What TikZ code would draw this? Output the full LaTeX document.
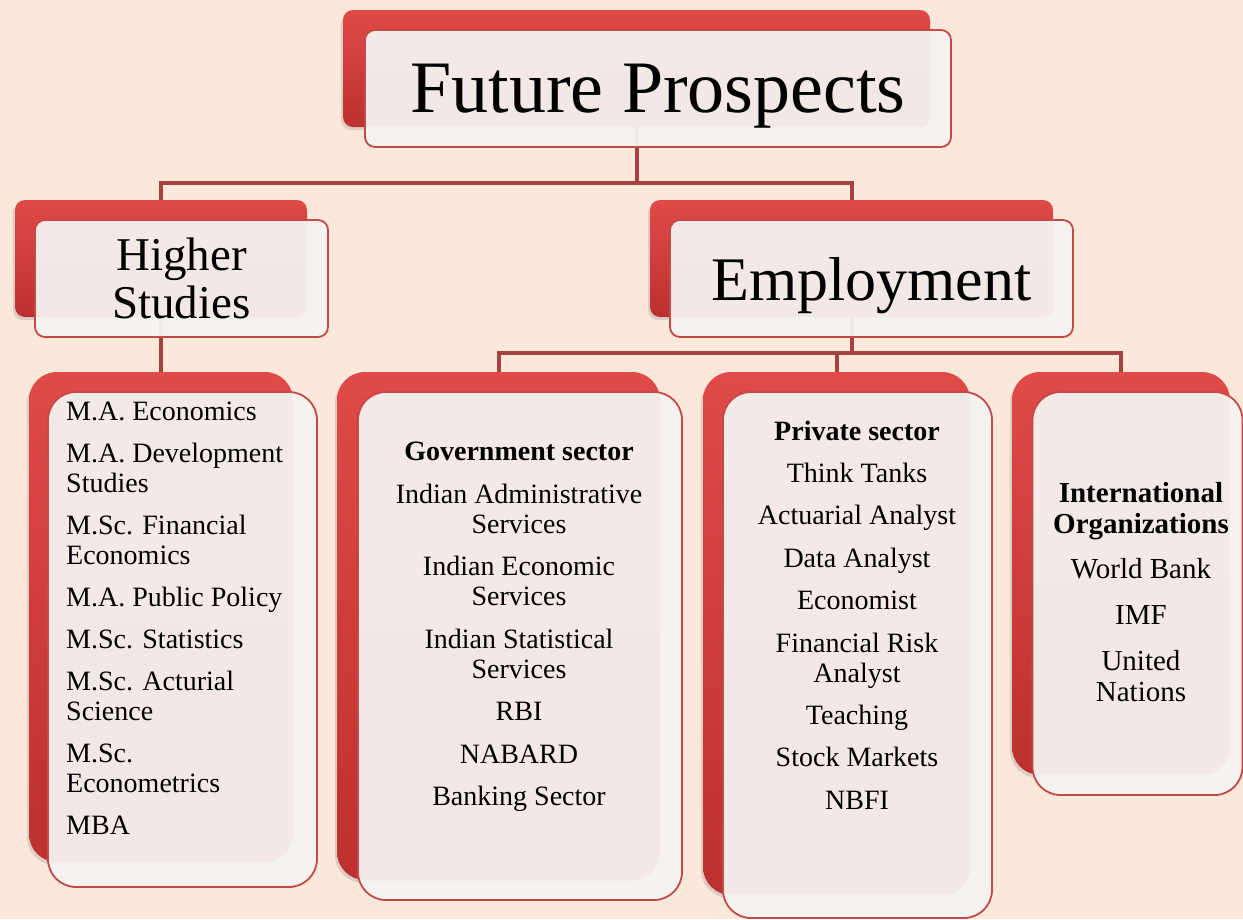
\documentclass[tikz,border=0pt]{standalone}
\usepackage{fontspec}
\setmainfont{Liberation Serif}
\usetikzlibrary{shadows}
\definecolor{peach}{RGB}{252,232,218}
\definecolor{redhi}{RGB}{224,74,72}
\definecolor{redlo}{RGB}{188,48,48}
\definecolor{framered}{RGB}{196,74,72}
\definecolor{linkred}{RGB}{166,66,64}
\definecolor{paper}{RGB}{245,243,241}

\begin{document}
\begin{tikzpicture}[
  x=1pt, y=-1pt,
  backbox/.style={rectangle,rounded corners=#1,top color=redhi,bottom color=redlo,inner sep=0pt,
    drop shadow={shadow xshift=-2pt,shadow yshift=-3pt,opacity=0.25}},
  frontbox/.style={rectangle,rounded corners=#1,draw=framered,line width=1.8pt,fill=paper,
    fill opacity=0.95,text opacity=1,inner sep=0pt,align=center},
  conn/.style={draw=linkred,line width=4pt},
  itemtext/.style={inner sep=0pt,font=\fontsize{28}{30}\selectfont}
]

\useasboundingbox (0,0) rectangle (1243,919);
\fill[peach] (0,0) rectangle (1243,919);

% back boxes
\node[backbox=10pt,minimum width=587pt,minimum height=117pt] (fpB) at (636.5,68.5) {};
\node[backbox=10pt,minimum width=292pt,minimum height=117pt] (hsB) at (161,258.5) {};
\node[backbox=10pt,minimum width=403pt,minimum height=117pt] (empB) at (851.5,258.5) {};
\node[backbox=28pt,minimum width=264pt,minimum height=490pt] (maB) at (161,617) {};
\node[backbox=28pt,minimum width=323pt,minimum height=508pt] (govB) at (498.5,626) {};
\node[backbox=28pt,minimum width=267pt,minimum height=523pt] (privB) at (836.5,633.5) {};
\node[backbox=28pt,minimum width=218pt,minimum height=403pt] (intlB) at (1121,573.5) {};

% connectors
\draw[conn] (fpB.south) -- ++(0,56) coordinate (fpJ) -| (hsB.north);
\draw[conn] (fpJ) -| (empB.north);
\draw[conn] (hsB.south) -- (maB.north);
\draw[conn] (empB.south) -- ++(0,36) coordinate (empJ) -| (govB.north);
\draw[conn] (empJ) -| (privB.north);
\draw[conn] (empJ) -| (intlB.north);

% front boxes
\node[frontbox=10pt,minimum width=586pt,minimum height=117pt,
  font=\fontsize{74}{80}\selectfont] (fpF) at (658,88.5) {\raisebox{-24pt}[0pt][0pt]{Future Prospects}};
\node[frontbox=10pt,minimum width=293pt,minimum height=117pt,
  font=\fontsize{47}{48}\selectfont] (hsF) at (181.5,278.5) {Higher\\Studies};
\node[frontbox=10pt,minimum width=403pt,minimum height=117pt,
  font=\fontsize{62}{64}\selectfont] (empF) at (871.5,278.5) {\raisebox{-21.5pt}[0pt][0pt]{Employment}};
\node[frontbox=28pt,minimum width=269pt,minimum height=495pt] (maF) at (182.5,639.5) {};
\node[frontbox=28pt,minimum width=324pt,minimum height=508pt] (govF) at (520,646) {};
\node[frontbox=28pt,minimum width=269pt,minimum height=526pt] (privF) at (857.5,655) {};
\node[frontbox=28pt,minimum width=210pt,minimum height=403pt] (intlF) at (1137.5,593.5) {};

% texts
\node[itemtext,align=left,anchor=west] (maT) at (66,618) {M.A. Economics\\[12pt]
  M.A. Development\\ Studies\\[12pt]
  M.Sc. Financial\\ Economics\\[12pt]
  M.A. Public Policy\\[12pt]
  M.Sc. Statistics\\[12pt]
  M.Sc. Acturial\\ Science\\[12pt]
  M.Sc.\\ Econometrics\\[12pt]
  MBA};
\node[itemtext,align=center] (govT) at (519,627) {\textbf{Government sector}\\[12.5pt]
  Indian Administrative\\ Services\\[12.5pt]
  Indian Economic\\ Services\\[12.5pt]
  Indian Statistical\\ Services\\[12.5pt]
  RBI\\[12.5pt]
  NABARD\\[12.5pt]
  Banking Sector};
\node[itemtext,align=center] (privT) at (857,615) {\textbf{Private sector}\\[12.4pt]
  Think Tanks\\[12.4pt]
  Actuarial Analyst\\[12.4pt]
  Data Analyst\\[12.4pt]
  Economist\\[12.4pt]
  Financial Risk\\ Analyst\\[12.4pt]
  Teaching\\[12.4pt]
  Stock Markets\\[12.4pt]
  NBFI};
\node[itemtext,align=center,font=\fontsize{29}{31}\selectfont] (intlT) at (1141,592)
  {\textbf{International}\\ \textbf{Organizations}\\[14pt]
  World Bank\\[15pt]
  IMF\\[15pt]
  United\\ Nations};

\end{tikzpicture}
\end{document}
